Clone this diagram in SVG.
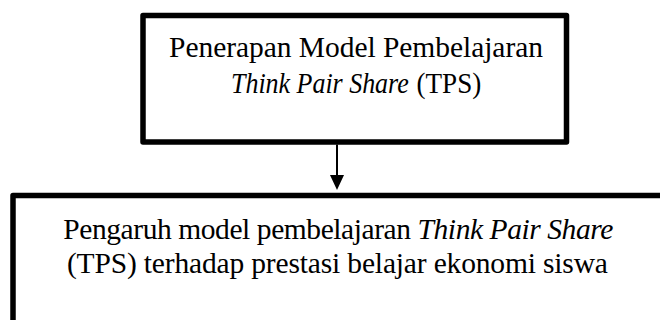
<svg xmlns="http://www.w3.org/2000/svg" width="660" height="320" viewBox="0 0 660 320">
  <style>
    .box { fill: #ffffff; stroke: #000000; stroke-width: 5.5; stroke-linejoin: round; }
    .t { font-family: "Liberation Serif", "Times New Roman", serif; font-size: 29.5px; fill: #000000; text-anchor: middle; }
    .s { text-anchor: start; }
    .i { font-style: italic; }
    .conn { stroke: #000000; stroke-width: 2; fill: none; }
  </style>
  <rect width="660" height="320" fill="#ffffff"/>
  <g id="node-penerapan">
    <rect class="box" x="143" y="15.5" width="423.5" height="126.5"/>
    <text class="t" x="356" y="57" textLength="374" lengthAdjust="spacing">Penerapan Model Pembelajaran</text>
    <text class="t s i" transform="translate(231,93) scale(0.88,1)" x="0" y="0">Think Pair Share</text>
    <text class="t s" transform="translate(416.5,93) scale(0.92,1)" x="0" y="0">(TPS)</text>
  </g>
  <g id="node-pengaruh">
    <rect class="box" x="13" y="195.5" width="700" height="200"/>
    <text class="t" x="338.3" y="239" textLength="550" lengthAdjust="spacing">Pengaruh model pembelajaran <tspan class="i">Think Pair Share</tspan></text>
    <text class="t" x="337.4" y="273" textLength="541" lengthAdjust="spacing">(TPS) terhadap prestasi belajar ekonomi siswa</text>
  </g>
  <g id="connectors">
    <line class="conn" x1="337" y1="144.5" x2="337" y2="176"/>
    <polygon points="330,175 344,175 337,190" fill="#000000"/>
  </g>
</svg>
